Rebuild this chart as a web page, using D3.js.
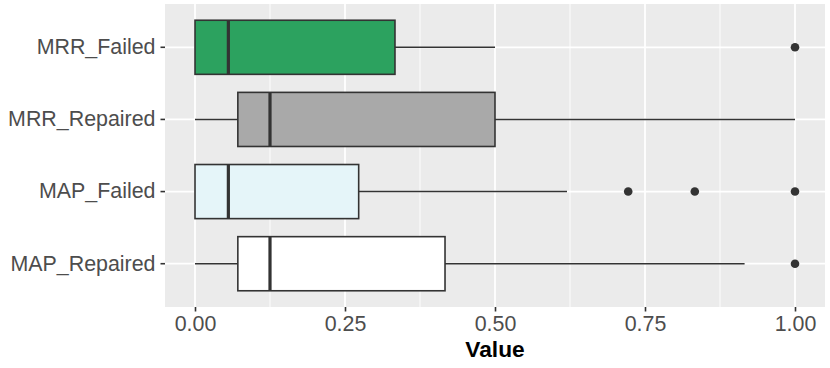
<!DOCTYPE html>
<html>
<head>
<meta charset="utf-8">
<script src="https://cdn.jsdelivr.net/npm/d3@7"></script>
<style>
  body { margin: 0; background: #fff; }
  text { font-family: "Liberation Sans", Arial, sans-serif; }
</style>
</head>
<body>
<div id="chart"></div>
<script>
// Kategori dari atas ke bawah
const categories = ["MRR_Failed", "MRR_Repaired", "MAP_Failed", "MAP_Repaired"];
// Statistik boxplot yang dibaca dari gambar
const lowerWhisker = [0, 0, 0, 0];
const q1 = [0, 0.0714, 0, 0.0714];
const median = [0.0556, 0.125, 0.0556, 0.125];
const q3 = [0.3333, 0.5, 0.2728, 0.4167];
const upperWhisker = [0.5, 1.0, 0.62, 0.916];
const outliers = [[1.0], [], [0.722, 0.833, 1.0], [1.0]];
const fills = ["#2CA25F", "#A9A9A9", "#E5F5F9", "#FFFFFF"];
const xTicks = [0, 0.25, 0.5, 0.75, 1.0];
const xMinor = [0.125, 0.375, 0.625, 0.875];

const width = 830, height = 368;
const panel = { left: 165, right: 825, top: 4, bottom: 307 };

const svg = d3.select("#chart").append("svg")
  .attr("width", width).attr("height", height);

const x = d3.scaleLinear().domain([-0.05, 1.05]).range([panel.left, panel.right]);
const y = d3.scaleBand().domain(categories)
  .range([panel.top, panel.bottom]).paddingOuter(0.1).paddingInner(0);
const boxH = y.bandwidth() * 0.75;

// Latar panel
svg.append("rect")
  .attr("x", panel.left).attr("y", panel.top)
  .attr("width", panel.right - panel.left).attr("height", panel.bottom - panel.top)
  .attr("fill", "#EBEBEB");

// Grid minor dan mayor
svg.selectAll(".minor").data(xMinor).enter().append("line")
  .attr("x1", d => x(d)).attr("x2", d => x(d))
  .attr("y1", panel.top).attr("y2", panel.bottom)
  .attr("stroke", "#fff").attr("stroke-width", 0.9);
svg.selectAll(".majorx").data(xTicks).enter().append("line")
  .attr("x1", d => x(d)).attr("x2", d => x(d))
  .attr("y1", panel.top).attr("y2", panel.bottom)
  .attr("stroke", "#fff").attr("stroke-width", 1.8);
svg.selectAll(".majory").data(categories).enter().append("line")
  .attr("x1", panel.left).attr("x2", panel.right)
  .attr("y1", d => y(d) + y.bandwidth() / 2).attr("y2", d => y(d) + y.bandwidth() / 2)
  .attr("stroke", "#fff").attr("stroke-width", 1.8);

// Boxplot
const g = svg.selectAll(".box").data(categories).enter().append("g")
  .attr("transform", d => `translate(0,${y(d) + y.bandwidth() / 2})`);

g.append("line")
  .attr("x1", (d, i) => x(lowerWhisker[i])).attr("x2", (d, i) => x(q1[i]))
  .attr("stroke", "#333").attr("stroke-width", 1.6);
g.append("line")
  .attr("x1", (d, i) => x(q3[i])).attr("x2", (d, i) => x(upperWhisker[i]))
  .attr("stroke", "#333").attr("stroke-width", 1.6);
g.append("rect")
  .attr("x", (d, i) => x(q1[i])).attr("y", -boxH / 2)
  .attr("width", (d, i) => x(q3[i]) - x(q1[i])).attr("height", boxH)
  .attr("fill", (d, i) => fills[i]).attr("stroke", "#333").attr("stroke-width", 1.6);
g.append("line")
  .attr("x1", (d, i) => x(median[i])).attr("x2", (d, i) => x(median[i]))
  .attr("y1", -boxH / 2).attr("y2", boxH / 2)
  .attr("stroke", "#333").attr("stroke-width", 3.2);
g.each(function (d, i) {
  d3.select(this).selectAll("circle").data(outliers[i]).enter().append("circle")
    .attr("cx", v => x(v)).attr("cy", 0).attr("r", 4.3).attr("fill", "#333");
});

// Sumbu x
const xAxis = svg.append("g").attr("transform", `translate(0,${panel.bottom})`)
  .call(d3.axisBottom(x).tickValues(xTicks).tickFormat(d3.format(".2f")).tickSize(4.5).tickPadding(4));
xAxis.select(".domain").remove();
xAxis.selectAll("line").attr("stroke", "#333").attr("stroke-width", 1.6);
xAxis.selectAll("text").attr("fill", "#4D4D4D").style("font-size", "21.4px");

// Sumbu y
const yAxis = svg.append("g").attr("transform", `translate(${panel.left},0)`)
  .call(d3.axisLeft(y).tickSize(4.5).tickPadding(5));
yAxis.select(".domain").remove();
yAxis.selectAll("line").attr("stroke", "#333").attr("stroke-width", 1.6);
yAxis.selectAll("text").attr("fill", "#4D4D4D").style("font-size", "21.4px");

// Judul sumbu
svg.append("text")
  .attr("x", (panel.left + panel.right) / 2).attr("y", 357)
  .attr("text-anchor", "middle")
  .style("font-size", "22.7px").style("font-weight", "bold")
  .attr("fill", "#000").text("Value");
</script>
</body>
</html>
